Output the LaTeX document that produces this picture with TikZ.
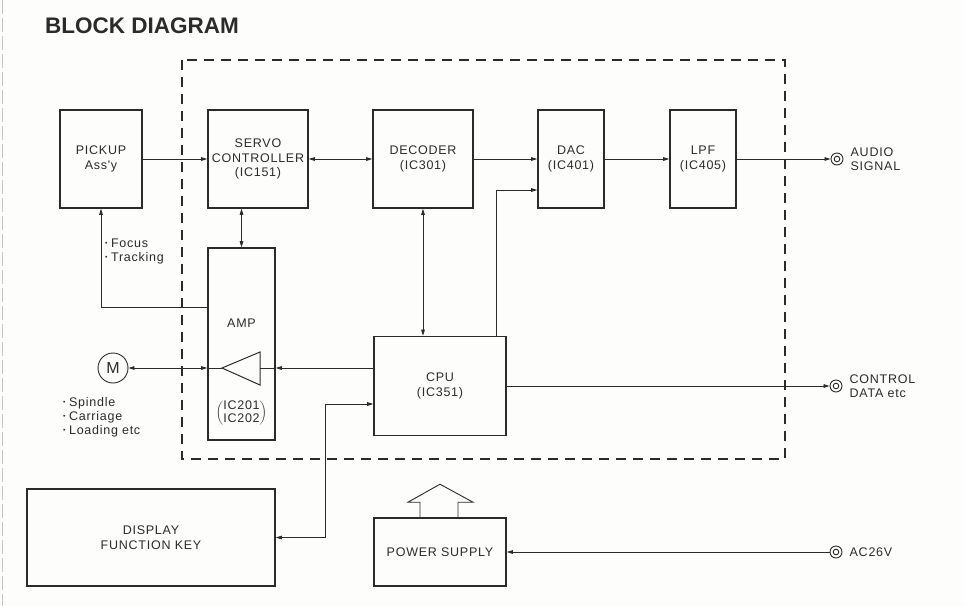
\documentclass[tikz,border=0pt]{standalone}
\usepackage{fontspec}
\setmainfont{Liberation Sans}
\newfontfamily\lblfont[LetterSpace=6]{Liberation Sans}
\usepackage{tikz}
\usetikzlibrary{arrows.meta,positioning,calc}
\definecolor{ink}{HTML}{2b2b2b}
\definecolor{paper}{HTML}{fdfdfb}
\newcommand\dotmark{\raisebox{0.3ex}{\scalebox{0.55}{\textbullet}}\hspace{3.5pt}}

\begin{document}
\begin{tikzpicture}[x=1pt, y=-1pt,
    >={Triangle[length=6pt,width=3.6pt]},
    blk/.style={rectangle, draw=ink, line width=1.6pt, inner sep=0pt,
                align=center, text=ink,
                font=\lblfont\fontsize{12.5}{14.5}\selectfont},
    lbl/.style={text=ink, inner sep=0pt,
                font=\lblfont\fontsize{12.5}{14}\selectfont},
    sig/.style={draw=ink, line width=0.8pt},
    jack/.style={circle, draw=ink, line width=0.9pt, minimum size=12pt,
                 inner sep=0pt,
                 path picture={\draw[ink, line width=0.9pt]
                   (path picture bounding box.center) circle (2.8pt);}},
    frame/.style={draw=ink, line width=1.2pt, dash pattern=on 10pt off 7pt},
]
\fill[paper] (0,0) rectangle (964,606);
\useasboundingbox (0,0) rectangle (964,606);
\draw[black!22, line width=1pt, dash pattern=on 14pt off 4pt] (2,0) -- (2,606);

\node[anchor=base west, text=ink, inner sep=0pt,
      font=\bfseries\fontsize{22.5}{26}\selectfont] (title) at (45,33) {BLOCK DIAGRAM};

% dashed boundary of main board
\draw[frame] (182,60) rectangle (785,459);

% top row
\node[blk, minimum width=82pt, minimum height=98pt] (pickup) at (101,159) {PICKUP\\Ass'y};
\node[blk, minimum width=100pt, minimum height=98pt] (servo) at (258,159) {SERVO\\CONTROLLER\\(IC151)};
\node[blk, minimum width=100pt, minimum height=98pt] (decoder) at (423,159) {DECODER\\(IC301)};
\node[blk, minimum width=66pt, minimum height=98pt] (dac) at (571,159) {DAC\\(IC401)};
\node[blk, minimum width=66pt, minimum height=98pt] (lpf) at (703,159) {LPF\\(IC405)};
\node[jack] (jaudio) at (837,159) {};
\node[lbl, right=7pt of jaudio, align=left] (audiolbl) {AUDIO\\SIGNAL};

% amp and cpu
\node[blk, minimum width=67pt, minimum height=192pt] (amp) at (241.5,344) {};
\node[lbl] (amplbl) at (241.5,323) {AMP};
\node[lbl] (ampic) at (241.5,413)
  {$\left(\vcenter{\hbox{\lblfont\fontsize{12.5}{13}\selectfont
     \begin{tabular}{@{}c@{}}IC201\\IC202\end{tabular}}}\right)$};
\coordinate (tritip) at (222,368);
\coordinate (tribase) at (260,368);
\draw[ink, line width=1pt] (tritip) -- (260,352) -- (260,385) -- cycle;

\node[blk, minimum width=132pt, minimum height=99pt] (cpu) at (440,386) {CPU\\(IC351)};
\node[jack] (jctrl) at (836,386) {};
\node[lbl, right=7pt of jctrl, align=left] (ctrllbl) {CONTROL\\DATA etc};

\node[circle, draw=ink, line width=0.9pt, minimum size=30pt, inner sep=0pt,
      text=ink, font=\fontsize{16}{18}\selectfont] (motor) at (113,368) {M};
\node[lbl, anchor=west, align=left] (motorlbl) at (63,417)
  {\dotmark Spindle\\\dotmark Carriage\\\dotmark Loading\hspace{4pt}etc};
\node[lbl, anchor=west, align=left] (pulbl) at (105,251)
  {\dotmark Focus\\\dotmark Tracking};

% bottom row
\node[blk, minimum width=248pt, minimum height=97pt] (display) at (151,537.5) {DISPLAY\\FUNCTION KEY};
\node[blk, minimum width=132pt, minimum height=68pt] (psu) at (440,552) {POWER\,\,SUPPLY};
\node[jack] (jac) at (836,552) {};
\node[lbl, right=7pt of jac] (aclbl) {AC26V};

% signal paths
\draw[sig,->] (pickup) -- (servo);
\draw[sig,<->] (servo) -- (decoder);
\draw[sig,->] (decoder) -- (dac);
\draw[sig,->] (dac) -- (lpf);
\draw[sig,->] (lpf) -- (jaudio);
\draw[sig,<->] (servo.south -| amp) -- (amp);
\draw[sig,<->] (decoder) -- (decoder |- cpu.north);
\draw[sig,->] ([xshift=-10pt]cpu.north east) |- ([yshift=-31pt]dac.west);
\draw[sig,->] (cpu) -- (jctrl);
\draw[sig,->] (cpu.west |- tribase) -- (amp.east |- tribase);
\draw[sig] (amp.east |- tribase) -- (tribase);
\draw[sig] (tritip) -- (amp.west |- tritip);
\draw[sig,<->] (motor) -- (amp.west |- motor);
\draw[sig,->] ([yshift=-60pt]amp.north west) -| (pickup.south);
\draw[sig,<->] (display.east) -- ++(50,0) |- ([yshift=-18pt]cpu.west);
\draw[sig,->] (jac) -- (psu);

% power feed arrow
\draw[ink, line width=0.9pt] ([xshift=-20pt]psu.north) -- ++(0,-15) -- ++(-12,0)
  -- ++(32,-18) -- ++(33,18) -- ++(-15,0) -- ++(0,15);

\end{tikzpicture}
\end{document}
